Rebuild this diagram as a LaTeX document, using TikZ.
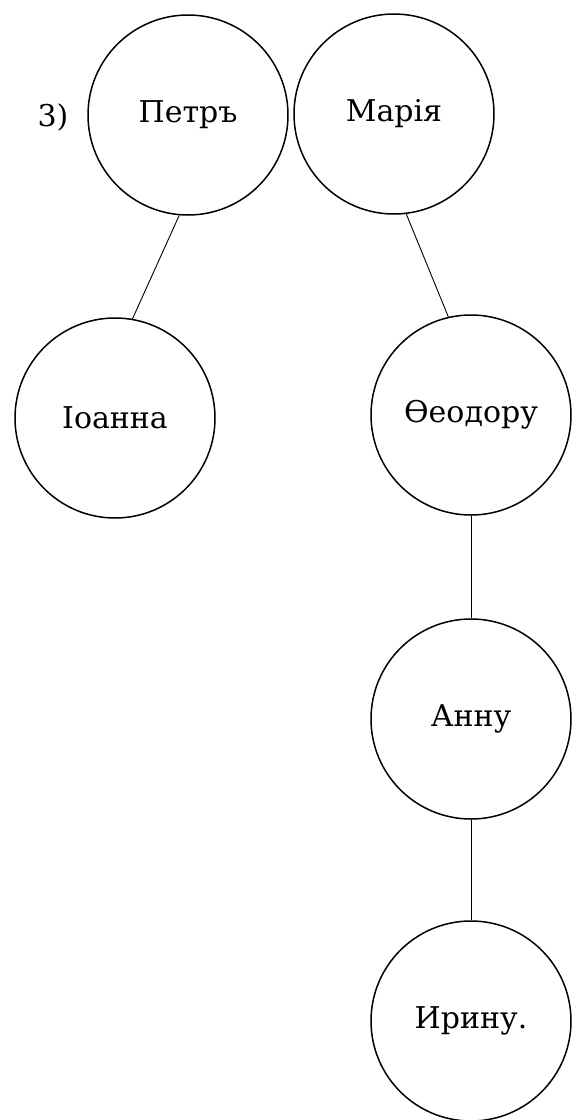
\documentclass[tikz,border=0pt]{standalone}
\usepackage{fontspec}
\setmainfont{DejaVu Serif}

\tikzset{person/.style={circle,draw,line width=0.75pt,minimum size=100pt,inner sep=0pt}}

\begin{document}
\begin{tikzpicture}[x=0.5pt,y=-0.5pt, font=\fontsize{15}{18}\selectfont]
      \useasboundingbox (0,0) rectangle (575,1120);

      \node[person] (petr) at (188,115) {Петръ};
      \node[person] (maria) at (394,114) {Марія};
      \node[person] (ioanna) at (115,418) {Іоанна};
      \node[person] (feodor) at (471,415) {Ѳеодору};
      \node[person] (anna) at (471,719) {Анну};
      \node[person] (irina) at (471,1021) {Ирину.};

      \node (num) at (53,117) {3)};

      \draw[line width=0.45pt] (petr.265) -- (ioanna.80);
      \draw[line width=0.45pt] (maria.277) -- (feodor.103);
      \draw[line width=0.45pt] (feodor) -- (anna);
      \draw[line width=0.45pt] (anna) -- (irina);
    \end{tikzpicture}
\end{document}
